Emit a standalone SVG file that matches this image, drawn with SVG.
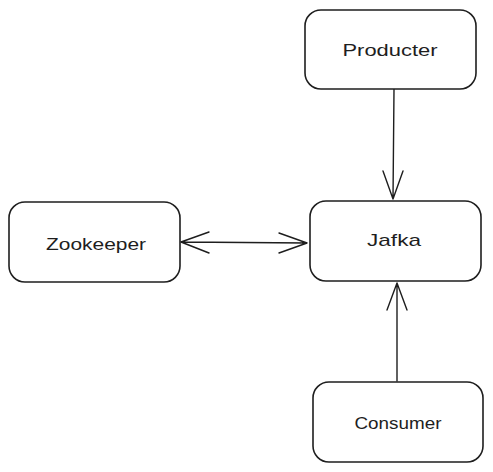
<svg xmlns="http://www.w3.org/2000/svg" width="493" height="472" viewBox="0 0 493 472">
<defs>
<style>
.box{fill:#fff;stroke:#1e1e1e;stroke-width:1.6}
.lbl{font-family:"Liberation Sans",Arial,sans-serif;font-size:17px;fill:#1e1e1e;text-anchor:middle;dominant-baseline:central}
.edge{fill:none;stroke:#1e1e1e;stroke-width:1.4;stroke-linecap:round;stroke-linejoin:round}
</style>
</defs>
<rect width="493" height="472" fill="#fff"/>
<g id="connectors">
<path class="edge" d="M394 89 L393 199 M383 171 L393 199 L403 171"/>
<path class="edge" d="M397 381 L397 283 M387 310 L397 283 L407 310"/>
<path class="edge" d="M181 242 L307 243 M209 232 L181 242 L209 253 M279 233 L307 243 L279 253"/>
</g>
<g id="producter">
<rect class="box" x="305" y="10" width="171" height="79" rx="16"/>
<text class="lbl" x="390" y="50" textLength="95" lengthAdjust="spacingAndGlyphs">Producter</text>
</g>
<g id="zookeeper">
<rect class="box" x="9" y="202" width="171" height="80" rx="16"/>
<text class="lbl" x="96" y="244" textLength="100" lengthAdjust="spacingAndGlyphs">Zookeeper</text>
</g>
<g id="jafka">
<rect class="box" x="310" y="201" width="171" height="80" rx="16"/>
<text class="lbl" x="394" y="240" textLength="54" lengthAdjust="spacingAndGlyphs">Jafka</text>
</g>
<g id="consumer">
<rect class="box" x="313" y="382" width="170" height="80" rx="16"/>
<text class="lbl" x="398" y="423" textLength="87" lengthAdjust="spacingAndGlyphs">Consumer</text>
</g>
</svg>
